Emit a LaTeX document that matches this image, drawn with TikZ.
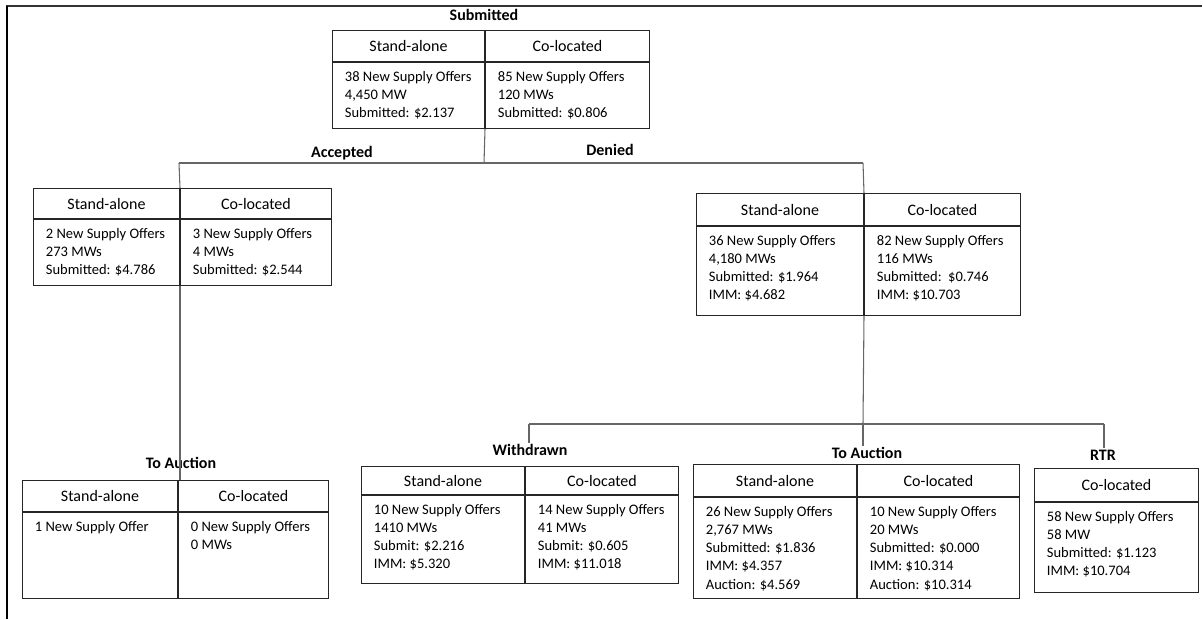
\documentclass[tikz,border=0pt]{standalone}
\usepackage{fontspec}
\setmainfont{Carlito}
\usepackage{tikz}
\usetikzlibrary{positioning,calc}

\begin{document}
\begin{tikzpicture}[
    x=0.75pt, y=-0.75pt,
    hdr/.style={rectangle, draw=black!85, line width=0.75pt, anchor=north west, inner sep=0pt, font=\fontsize{12}{14}\selectfont},
    cell/.style={rectangle, draw=black!85, line width=0.75pt, anchor=north west, inner sep=0pt},
    txt/.style={anchor=north west, align=left, inner xsep=9.5pt, inner ysep=6.5pt, font=\fontsize{10.9}{13.7}\selectfont},
    lbl/.style={font=\fontsize{12}{14}\selectfont\bfseries, inner sep=1pt},
    link/.style={draw=black!60, line width=0.8pt}
]
\useasboundingbox (0,0) rectangle (1203,619);

% page frame
\draw[black!80, line width=1.1pt] (6,6) -- (1202,6);
\draw[black, line width=1.6pt] (7,6) -- (7,619);

% Submitted
\node[lbl] (sublab) at (484,15) {Submitted};
\node[hdr, minimum width=114pt, minimum height=23.25pt] (tsah) at (332,30) {Stand-alone};
\node[hdr, minimum width=123pt, minimum height=23.25pt] (tclh) at (tsah.north east) {Co-located};
\node[cell, minimum width=114pt, minimum height=49.5pt] (tsab) at (tsah.south west) {};
\node[cell, minimum width=123pt, minimum height=49.5pt] (tclb) at (tsab.north east) {};
\node[txt] (tsat) at (tsab.north west) {38 New Supply Offers\\4,450 MW\\Submitted: \$2.137};
\node[txt] (tclt) at (tclb.north west) {85 New Supply Offers\\120 MWs\\Submitted: \$0.806};

\node[lbl] (acclab) at (342,153) {Accepted};
\node[lbl] (denlab) at (610,150) {Denied};

% Accepted
\node[hdr, minimum width=109.5pt, minimum height=22.5pt] (asah) at (33,188) {Stand-alone};
\node[hdr, minimum width=113.25pt, minimum height=22.5pt] (aclh) at (asah.north east) {Co-located};
\node[cell, minimum width=109.5pt, minimum height=49.5pt] (asab) at (asah.south west) {};
\node[cell, minimum width=113.25pt, minimum height=49.5pt] (aclb) at (asab.north east) {};
\node[txt] (asat) at (asab.north west) {2 New Supply Offers\\273 MWs\\Submitted: \$4.786};
\node[txt] (aclt) at (aclb.north west) {3 New Supply Offers\\4 MWs\\Submitted: \$2.544};

% Denied
\node[hdr, minimum width=125.25pt, minimum height=24pt] (dsah) at (696,193) {Stand-alone};
\node[hdr, minimum width=117pt, minimum height=24pt] (dclh) at (dsah.north east) {Co-located};
\node[cell, minimum width=125.25pt, minimum height=66.75pt] (dsab) at (dsah.south west) {};
\node[cell, minimum width=117pt, minimum height=66.75pt] (dclb) at (dsab.north east) {};
\node[txt] (dsat) at (dsab.north west) {36 New Supply Offers\\4,180 MWs\\Submitted: \$1.964\\IMM: \$4.682};
\node[txt] (dclt) at (dclb.north west) {82 New Supply Offers\\116 MWs\\Submitted:\ \ \$0.746\\IMM: \$10.703};

% To Auction (accepted)
\node[lbl] (lalab) at (181,463) {To Auction};
\node[hdr, minimum width=116.25pt, minimum height=23.25pt] (lsah) at (22,480) {Stand-alone};
\node[hdr, minimum width=112.5pt, minimum height=23.25pt] (lclh) at (lsah.north east) {Co-located};
\node[cell, minimum width=116.25pt, minimum height=64.5pt] (lsab) at (lsah.south west) {};
\node[cell, minimum width=112.5pt, minimum height=64.5pt] (lclb) at (lsab.north east) {};
\node[txt] (lsat) at (lsab.north west) {1 New Supply Offer};
\node[txt] (lclt) at (lclb.north west) {0 New Supply Offers\\0 MWs};

% Withdrawn
\node[lbl] (wlab) at (530,450) {Withdrawn};
\node[hdr, minimum width=122.25pt, minimum height=21pt] (wsah) at (361,466) {Stand-alone};
\node[hdr, minimum width=114.75pt, minimum height=21pt] (wclh) at (wsah.north east) {Co-located};
\node[cell, minimum width=122.25pt, minimum height=66pt] (wsab) at (wsah.south west) {};
\node[cell, minimum width=114.75pt, minimum height=66pt] (wclb) at (wsab.north east) {};
\node[txt] (wsat) at (wsab.north west) {10 New Supply Offers\\1410 MWs\\Submit: \$2.216\\IMM: \$5.320};
\node[txt] (wclt) at (wclb.north west) {14 New Supply Offers\\41 MWs\\Submit: \$0.605\\IMM: \$11.018};

% To Auction (denied)
\node[lbl] (ralab) at (867,453) {To Auction};
\node[hdr, minimum width=122.25pt, minimum height=24pt] (rsah) at (693,464) {Stand-alone};
\node[hdr, minimum width=121.5pt, minimum height=24pt] (rclh) at (rsah.north east) {Co-located};
\node[cell, minimum width=122.25pt, minimum height=75.75pt] (rsab) at (rsah.south west) {};
\node[cell, minimum width=121.5pt, minimum height=75.75pt] (rclb) at (rsab.north east) {};
\node[txt] (rsat) at (rsab.north west) {26 New Supply Offers\\2,767 MWs\\Submitted: \$1.836\\IMM: \$4.357\\Auction: \$4.569};
\node[txt] (rclt) at (rclb.north west) {10 New Supply Offers\\20 MWs\\Submitted: \$0.000\\IMM: \$10.314\\Auction: \$10.314};

% RTR
\node[lbl] (rtrlab) at (1103,455) {RTR};
\node[hdr, minimum width=123pt, minimum height=24.75pt] (rtrh) at (1034,468) {Co-located};
\node[cell, minimum width=123pt, minimum height=67.5pt] (rtrb) at (rtrh.south west) {};
\node[txt] (rtrt) at (rtrb.north west) {58 New Supply Offers\\58 MW\\Submitted: \$1.123\\IMM: \$10.704};

% connectors
\coordinate (accj) at (179,163);
\coordinate (topj) at (484,163);
\coordinate (denj) at (863,163);
\draw[link] (tsab.south east) -- (topj);
\draw[link] (accj) -- (denj);
\draw[link] (accj) -- (asah.north east);
\draw[link] (denj) -- (dsah.north east);
\draw[link] (asab.south east) -- (asab.south east |- lsah.north);

\coordinate (wj) at (529,424);
\coordinate (aj) at (863,424);
\coordinate (rj) at (1104,424);
\draw[link] (dsab.south east) -- (aj);
\draw[link] (wj) -- (rj);
\draw[link] (wj) -- (wj |- wlab.north);
\draw[link] (aj) -- (aj |- ralab.north);
\draw[link] (rj) -- (rj |- rtrlab.north);

\end{tikzpicture}
\end{document}
